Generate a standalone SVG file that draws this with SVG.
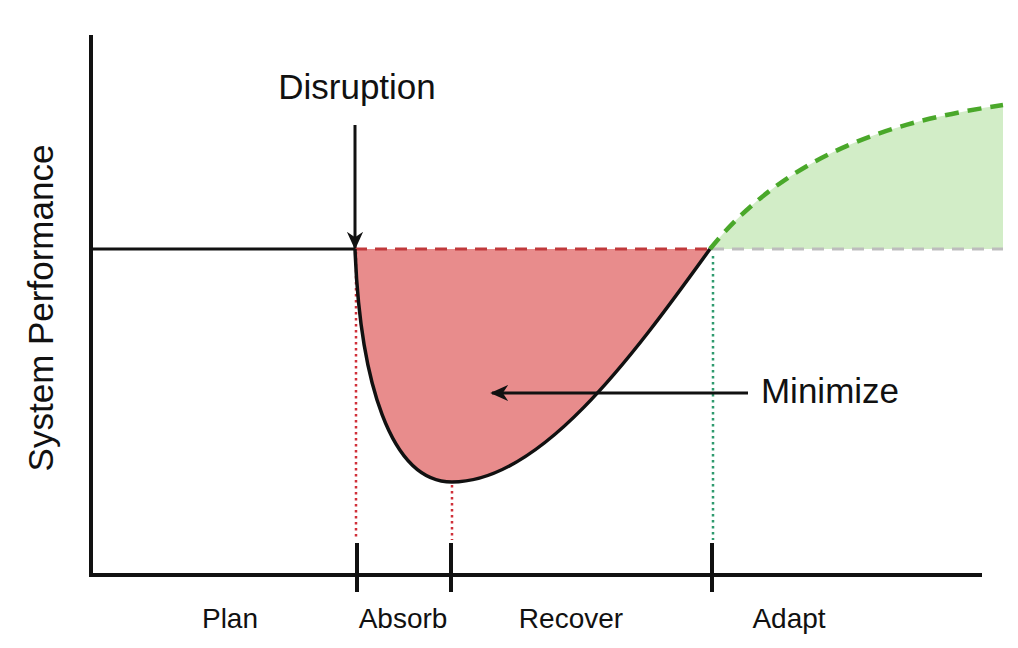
<svg xmlns="http://www.w3.org/2000/svg" width="1018" height="648" viewBox="0 0 1018 648">
<defs>
<style>
text{font-family:"Liberation Sans",Arial,sans-serif;fill:#111;}
.lbl{font-size:28px;}
.big{font-size:35px;}
.axis{stroke:#111;stroke-width:4;fill:none;}
.tick{stroke:#111;stroke-width:4;}
</style>
<marker id="ah" viewBox="0 0 20 20" refX="18" refY="10" markerWidth="18" markerHeight="18" markerUnits="userSpaceOnUse" orient="auto">
<path d="M0,1 L20,10 L0,19 L6,10 Z" fill="#111"/>
</marker>
</defs>
<rect width="1018" height="648" fill="#fff"/>
<g id="areas">
<path d="M710,249 C790,150 900,120 1003,105 L1003,249 Z" fill="#d2edc7"/>
<path d="M355,249 C360,380 390,482 452,482 C540,482 630,360 710,249 Z" fill="#e88c8c"/>
</g>
<g id="guides">
<line x1="355" y1="249" x2="710" y2="249" stroke="#c0393b" stroke-width="3" stroke-dasharray="12,8"/>
<line x1="712" y1="249" x2="1003" y2="249" stroke="#bdbdbd" stroke-width="3" stroke-dasharray="12,8"/>
<path d="M710,249 C790,150 900,120 1003,105" fill="none" stroke="#4aa82a" stroke-width="4.5" stroke-dasharray="14,9"/>
<line x1="356" y1="252" x2="356" y2="540" stroke="#d0303a" stroke-width="2.5" stroke-dasharray="2.5,3.5"/>
<line x1="452" y1="485" x2="452" y2="540" stroke="#d0303a" stroke-width="2.5" stroke-dasharray="2.5,3.5"/>
<line x1="713" y1="256" x2="713" y2="540" stroke="#2e9a6e" stroke-width="2.5" stroke-dasharray="2.5,3.5"/>
</g>
<g id="axes">
<path class="axis" d="M91,35 L91,575 L982,575"/>
<line class="tick" x1="357" y1="543" x2="357" y2="592"/>
<line class="tick" x1="451" y1="543" x2="451" y2="592"/>
<line class="tick" x1="712" y1="543" x2="712" y2="592"/>
</g>
<g id="performance">
<path d="M91,249 L355,249" fill="none" stroke="#111" stroke-width="3"/>
<path d="M355,249 C360,380 390,482 452,482 C540,482 630,360 710,249" fill="none" stroke="#111" stroke-width="3.5"/>
</g>
<g id="connectors">
<line x1="355" y1="125" x2="355" y2="248" stroke="#111" stroke-width="3" marker-end="url(#ah)"/>
<line x1="748" y1="393" x2="492" y2="393" stroke="#111" stroke-width="3" marker-end="url(#ah)"/>
</g>
<g id="labels">
<text class="big" x="357" y="99" text-anchor="middle">Disruption</text>
<text class="big" x="830" y="403" text-anchor="middle">Minimize</text>
<text class="big" transform="translate(53,308) rotate(-90)" text-anchor="middle">System Performance</text>
<text class="lbl" x="230" y="628" text-anchor="middle">Plan</text>
<text class="lbl" x="403" y="628" text-anchor="middle">Absorb</text>
<text class="lbl" x="571" y="628" text-anchor="middle">Recover</text>
<text class="lbl" x="789" y="628" text-anchor="middle">Adapt</text>
</g>
</svg>
